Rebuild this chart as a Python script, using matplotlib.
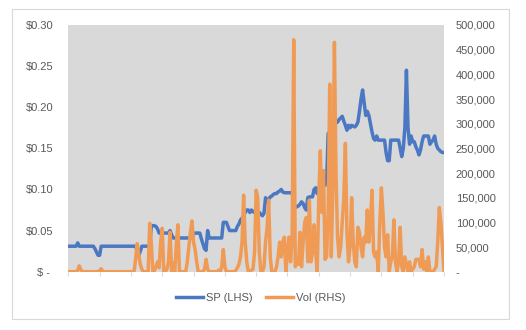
import matplotlib
matplotlib.use("Agg")
import matplotlib.pyplot as plt
from matplotlib.patches import Rectangle
from matplotlib.lines import Line2D

# Share price (left axis, $) and traded volume (right axis, shares)
share_price = [
    0.031, 0.031, 0.031, 0.031, 0.031, 0.031, 0.035, 0.031, 0.031, 0.031,
    0.031, 0.031, 0.031, 0.031, 0.031, 0.031, 0.031, 0.028, 0.024, 0.020,
    0.020, 0.031, 0.031, 0.031, 0.031, 0.031, 0.031, 0.031, 0.031, 0.031,
    0.031, 0.031, 0.031, 0.031, 0.031, 0.031, 0.031, 0.031, 0.031, 0.031,
    0.031, 0.031, 0.031, 0.031, 0.025, 0.020, 0.025, 0.031, 0.031, 0.031,
    0.031, 0.031, 0.031, 0.056, 0.056, 0.056, 0.055, 0.052, 0.047, 0.047,
    0.047, 0.047, 0.047, 0.047, 0.047, 0.050, 0.045, 0.041, 0.041, 0.041,
    0.041, 0.041, 0.041, 0.041, 0.041, 0.041, 0.041, 0.041, 0.041, 0.041,
    0.046, 0.047, 0.047, 0.047, 0.047, 0.040, 0.034, 0.028, 0.026, 0.050,
    0.041, 0.041, 0.041, 0.041, 0.041, 0.041, 0.041, 0.041, 0.041, 0.060,
    0.060, 0.060, 0.055, 0.050, 0.050, 0.050, 0.050, 0.050, 0.055, 0.058,
    0.063, 0.065, 0.068, 0.072, 0.075, 0.075, 0.072, 0.075, 0.073, 0.072,
    0.072, 0.072, 0.072, 0.070, 0.068, 0.071, 0.090, 0.085, 0.088, 0.091,
    0.092, 0.094, 0.095, 0.095, 0.097, 0.098, 0.100, 0.097, 0.096, 0.096,
    0.096, 0.096, 0.096, 0.096, 0.085, 0.078, 0.079, 0.080, 0.082, 0.085,
    0.083, 0.078, 0.075, 0.090, 0.091, 0.091, 0.091, 0.100, 0.102, 0.095,
    0.102, 0.105, 0.105, 0.108, 0.105, 0.110, 0.168, 0.169, 0.168, 0.170,
    0.178, 0.181, 0.182, 0.185, 0.187, 0.189, 0.183, 0.178, 0.172, 0.178,
    0.175, 0.178, 0.177, 0.176, 0.178, 0.182, 0.195, 0.210, 0.221, 0.205,
    0.190, 0.195, 0.190, 0.180, 0.170, 0.162, 0.160, 0.165, 0.160, 0.160,
    0.160, 0.160, 0.160, 0.145, 0.135, 0.135, 0.160, 0.160, 0.160, 0.160,
    0.160, 0.160, 0.150, 0.140, 0.150, 0.175, 0.245, 0.175, 0.155, 0.165,
    0.158, 0.158, 0.152, 0.148, 0.142, 0.148, 0.158, 0.165, 0.165, 0.165,
    0.165, 0.155, 0.158, 0.160, 0.165, 0.155, 0.150, 0.148, 0.146, 0.145,
    0.145,
]

volume = [
    0, 0, 0, 0, 0, 0, 3000, 12000, 4000, 0,
    0, 0, 0, 0, 0, 0, 0, 0, 0, 0,
    2000, 6000, 1000, 0, 0, 0, 0, 0, 0, 0,
    0, 0, 0, 0, 0, 0, 0, 0, 0, 0,
    0, 0, 0, 25000, 57000, 35000, 15000, 5000, 0, 0,
    0, 0, 98000, 60000, 0, 2000, 10000, 20000, 8000, 60000,
    88000, 0, 0, 5000, 20000, 80000, 0, 18000, 0, 55000,
    95000, 0, 0, 0, 0, 0, 20000, 50000, 80000, 103000,
    60000, 45000, 20000, 0, 0, 0, 0, 5000, 25000, 5000,
    0, 0, 0, 0, 0, 0, 3000, 0, 10000, 45000,
    10000, 0, 0, 0, 0, 0, 0, 3000, 8000, 15000,
    30000, 60000, 155000, 60000, 20000, 0, 0, 3000, 5000, 40000,
    165000, 150000, 40000, 0, 0, 10000, 60000, 90000, 145000, 30000,
    0, 0, 0, 10000, 30000, 60000, 30000, 60000, 70000, 0,
    40000, 70000, 20000, 70000, 470000, 10000, 20000, 15000, 80000, 10000,
    60000, 100000, 110000, 20000, 145000, 20000, 40000, 95000, 40000, 0,
    150000, 245000, 120000, 205000, 25000, 30000, 120000, 380000, 30000, 170000,
    465000, 200000, 70000, 30000, 50000, 100000, 150000, 260000, 80000, 20000,
    50000, 150000, 60000, 20000, 10000, 90000, 80000, 50000, 30000, 70000,
    60000, 125000, 60000, 100000, 165000, 40000, 30000, 40000, 0, 100000,
    170000, 120000, 50000, 30000, 75000, 0, 20000, 30000, 105000, 20000,
    0, 20000, 90000, 10000, 0, 30000, 15000, 0, 20000, 0,
    5000, 10000, 25000, 25000, 25000, 10000, 45000, 5000, 20000, 0,
    30000, 0, 0, 0, 5000, 10000, 60000, 130000, 100000, 50000,
    0,
]

price_ticks = [0.0, 0.05, 0.10, 0.15, 0.20, 0.25, 0.30]
price_labels = ["$ - ", "$0.05", "$0.10", "$0.15", "$0.20", "$0.25", "$0.30"]
volume_ticks = [0, 50000, 100000, 150000, 200000, 250000, 300000, 350000, 400000, 450000, 500000]
volume_labels = ["-", "50,000", "100,000", "150,000", "200,000", "250,000",
                 "300,000", "350,000", "400,000", "450,000", "500,000"]
series_names = ["SP (LHS)", "Vol (RHS)"]

BLUE = "#4A78C2"
ORANGE = "#F09B55"
TEXT = "#595959"
FONT = "Liberation Sans"

plt.rcParams["font.family"] = [FONT, "DejaVu Sans"]

W, H = 526, 330
fig = plt.figure(figsize=(W / 100, H / 100), dpi=100)
fig.patch.set_facecolor("white")

# light chart-area border
fig.patches.append(Rectangle((12 / W, 1 - 319 / H), 497 / W, 310 / H,
                             transform=fig.transFigure, fill=False,
                             edgecolor="#D9D9D9", linewidth=0.8))

ax = fig.add_axes([68.3 / W, 1 - 271.7 / H, (444 - 68.3) / W, (271.7 - 25) / H])
ax.set_facecolor("#D9D9D9")
x = list(range(len(share_price)))

ax.plot(x, share_price, color=BLUE, lw=2.5, solid_joinstyle="round", zorder=2)
ax.set_xlim(0, len(share_price) - 1)
ax.set_ylim(0, 0.30)
ax.set_yticks(price_ticks)
ax.set_yticklabels(price_labels)
ax.set_xticks(range(0, len(share_price), 20))
ax.set_xticklabels([])
ax.tick_params(axis="x", length=3, color="#D9D9D9", width=0.8, direction="out")
ax.tick_params(axis="y", length=0, pad=11, labelsize=8, labelcolor=TEXT)
for s in ax.spines.values():
    s.set_visible(False)

ax2 = ax.twinx()
ax2.plot(x, volume, color=ORANGE, lw=2.5, solid_joinstyle="round", zorder=3)
ax2.set_ylim(0, 500000)
ax2.set_yticks(volume_ticks)
ax2.set_yticklabels(volume_labels)
ax2.tick_params(axis="y", length=0, pad=8.5, labelsize=8, labelcolor=TEXT)
for s in ax2.spines.values():
    s.set_visible(False)

handles = [Line2D([], [], color=BLUE, lw=2.5), Line2D([], [], color=ORANGE, lw=2.5)]
fig.legend(handles, series_names, loc="center", bbox_to_anchor=(261 / W, 1 - 298 / H),
           ncol=2, frameon=False, fontsize=8, labelcolor=TEXT, handlelength=2.45,
           handletextpad=0.25, columnspacing=1.2)

fig.savefig("out.png", dpi=100, facecolor="white")
